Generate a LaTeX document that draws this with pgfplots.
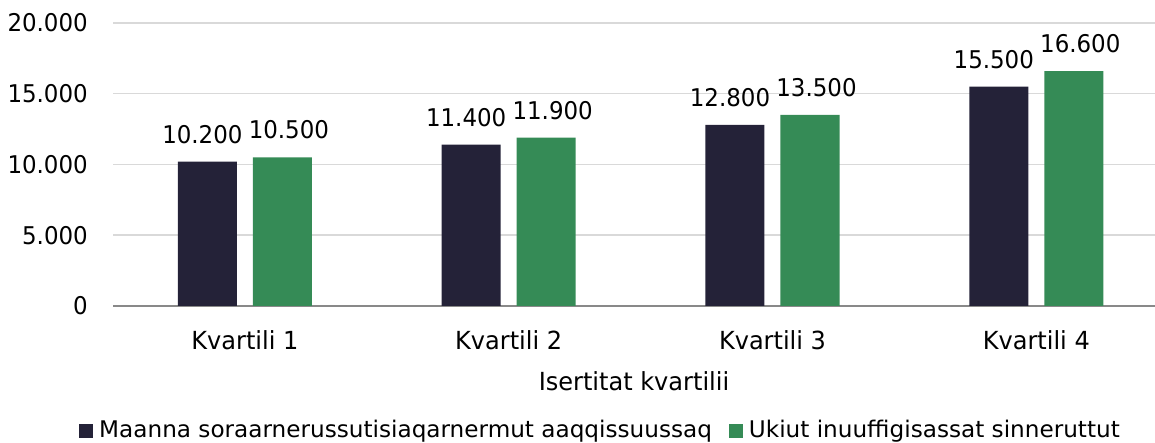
\documentclass[border=0pt]{standalone}
\usepackage{fontspec}
\setmainfont{DejaVu Sans}[FakeStretch=0.965]
\newfontfamily\numfont{DejaVu Sans}[FakeStretch=0.94]
\newfontfamily\legfont{DejaVu Sans}[FakeStretch=1.01]
\usepackage{pgfplots}
\pgfplotsset{compat=1.18}
\definecolor{cdark}{RGB}{36,34,56}
\definecolor{cgreen}{RGB}{53,139,86}
\definecolor{cgrid}{RGB}{217,217,217}
\definecolor{caxis}{RGB}{137,137,137}
\begin{document}
\begin{tikzpicture}
\begin{axis}[
  at={(113bp,137bp)}, anchor=south west,
  scale only axis, width=1042bp, height=283bp,
  ymin=0, ymax=20000, xmin=-0.5, xmax=3.45,
  ytick={0,5000,10000,15000,20000},
  scaled y ticks=false,
  xtick={0,1,2,3},
  xticklabels={Kvartili 1,Kvartili 2,Kvartili 3,Kvartili 4},
  ybar=16bp, bar width=59bp,
  axis x line*=bottom, axis y line*=left,
  x axis line style={draw=caxis, line width=1.5bp, -},
  y axis line style={draw=none},
  major tick length=0pt,
  ymajorgrids, grid style={draw=cgrid, line width=1.5bp},
  /pgf/number format/.cd, 1000 sep={.}, fixed, precision=0, assume math mode=true,
  /pgfplots/.cd,
  yticklabel style={font=\numfont\fontsize{24.5}{28}\selectfont, text=black, inner sep=0pt, anchor=east, xshift=-25bp},
  xticklabel style={font=\fontsize{25}{28}\selectfont, text=black, inner sep=0pt, anchor=north, yshift=-24bp},
  xlabel={Isertitat kvartilii},
  xlabel style={font=\fontsize{25}{28}\selectfont, at={(axis description cs:0.5,0)}, anchor=north, inner sep=0pt, yshift=-65bp},
  nodes near coords,
  every node near coord/.append style={font=\numfont\fontsize{24.5}{28}\selectfont, text=black, inner sep=0pt, anchor=south, yshift=18bp},
  legend columns=2,
  legend style={at={(-0.0326,-0.4714)}, anchor=south west, draw=none, fill=none,
    font=\legfont\fontsize{23}{27}\selectfont, inner sep=0pt, nodes={inner sep=0pt},
    /tikz/every odd column/.append style={column sep=6bp},
    /tikz/every even column/.append style={column sep=17bp}},
  legend image code/.code={\fill[#1] (0bp,-8bp) rectangle (14bp,6bp);},
]
\addplot[fill=cdark, draw=none, every node near coord/.append style={xshift=-5bp}] coordinates {(0,10200) (1,11400) (2,12800) (3,15500)};
\addplot[fill=cgreen, draw=none, every node near coord/.append style={xshift=6.5bp}] coordinates {(0,10500) (1,11900) (2,13500) (3,16600)};
\legend{Maanna soraarnerussutisiaqarnermut aaqqissuussaq, Ukiut inuuffigisassat sinneruttut}
\end{axis}
\pgfresetboundingbox
\path[use as bounding box] (0,0) rectangle (1155bp,443bp);
\end{tikzpicture}
\end{document}
